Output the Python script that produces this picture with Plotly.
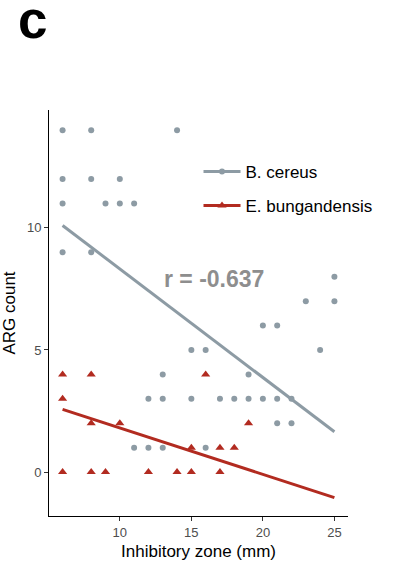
import plotly.graph_objects as go

# ---- data ----
bc_x = [6, 8, 14, 6, 8, 10, 6, 9, 10, 11, 6, 8, 25, 23, 25, 20, 21, 15, 16, 24,
        13, 19, 12, 13, 15, 17, 18, 19, 20, 21, 22, 21, 22, 11, 12, 13, 16]
bc_y = [14, 14, 14, 12, 12, 12, 11, 11, 11, 11, 9, 9, 8, 7, 7, 6, 6, 5, 5, 5,
        4, 4, 3, 3, 3, 3, 3, 3, 3, 3, 3, 2, 2, 1, 1, 1, 1]
eb_x = [6, 8, 16, 6, 8, 10, 19, 15, 17, 18, 6, 8, 9, 12, 14, 15, 17]
eb_y = [4, 4, 4, 3, 2, 2, 2, 1, 1, 1, 0, 0, 0, 0, 0, 0, 0]

fit_x = [6, 25]
bc_fit = [10.1, 1.65]
eb_fit = [2.57, -1.05]

bc_r = "r = -0.637"
eb_r = "r = -0.517"
bc_r_pos = (16.6, 7.9)
eb_r_pos = (26.1, 0.32)

x_ticks = [10, 15, 20, 25]
y_ticks = [0, 5, 10]

GREY = "#8d9ba4"
RED = "#b22b20"
FONT = "Liberation Sans"

fig = go.Figure()
fig.add_trace(go.Scatter(x=bc_x, y=bc_y, mode="markers", showlegend=False,
                         marker=dict(color=GREY, size=6, symbol="circle")))
fig.add_trace(go.Scatter(x=eb_x, y=eb_y, mode="markers", showlegend=False,
                         marker=dict(color=RED, size=8, symbol="triangle-up")))
fig.add_trace(go.Scatter(x=fit_x, y=bc_fit, mode="lines", showlegend=False,
                         line=dict(color=GREY, width=3)))
fig.add_trace(go.Scatter(x=fit_x, y=eb_fit, mode="lines", showlegend=False,
                         line=dict(color=RED, width=3)))
# legend entries
fig.add_trace(go.Scatter(x=[None], y=[None], mode="lines+markers", name="B. cereus",
                         legendgroup="a",
                         line=dict(color=GREY, width=3),
                         marker=dict(color=GREY, size=6, symbol="circle")))
fig.add_trace(go.Scatter(x=[None], y=[None], mode="lines+markers", name="E. bungandensis",
                         legendgroup="b",
                         line=dict(color=RED, width=3),
                         marker=dict(color=RED, size=8, symbol="triangle-up")))

fig.add_annotation(x=bc_r_pos[0], y=bc_r_pos[1], text=f"<b>{bc_r}</b>", showarrow=False,
                   font=dict(family=FONT, size=23, color="#8e8e8e"))
fig.add_annotation(x=eb_r_pos[0], y=eb_r_pos[1], text=f"<b>{eb_r}</b>", showarrow=False,
                   font=dict(family=FONT, size=23, color="#a5261c"))
fig.add_annotation(xref="paper", yref="paper", x=-0.055, y=1.222, text="<b>c</b>",
                   showarrow=False, xanchor="center", yanchor="middle",
                   font=dict(family=FONT, size=53, color="black"))

axis_common = dict(showline=True, linecolor="black", linewidth=1, ticks="outside",
                   ticklen=4, tickcolor="#333333", showgrid=False, zeroline=False,
                   tickfont=dict(family=FONT, size=13, color="#4d4d4d"),
                   mirror=False, automargin=False)
fig.update_xaxes(range=[5.05, 25.95], tickvals=x_ticks,
                 title=dict(text="Inhibitory zone (mm)", standoff=6,
                            font=dict(family=FONT, size=17, color="black")),
                 **axis_common)
fig.update_yaxes(range=[-1.8, 14.83], tickvals=y_ticks,
                 title=dict(text="ARG count", standoff=6,
                            font=dict(family=FONT, size=17, color="black")),
                 **axis_common)

fig.update_layout(
    width=419, height=561,
    margin=dict(l=49, r=71, t=110, b=45),
    plot_bgcolor="white", paper_bgcolor="white",
    font=dict(family=FONT),
    legend=dict(x=0.5, y=0.892, xanchor="left", yanchor="top",
                font=dict(family=FONT, size=17, color="black"),
                tracegroupgap=9, itemwidth=37, bgcolor="rgba(0,0,0,0)"),
)

fig.write_html("out.html")
